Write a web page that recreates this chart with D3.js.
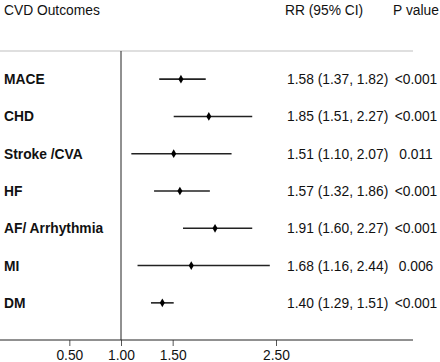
<!DOCTYPE html>
<html><head><meta charset="utf-8">
<script src="https://cdn.jsdelivr.net/npm/d3@7"></script>
<style>body{margin:0;background:#fff}svg{display:block}text{font-family:"Liberation Sans",Arial,sans-serif}</style>
</head><body><svg id="c" width="440" height="362"></svg>
<script>
const outcomes = ["MACE","CHD","Stroke /CVA","HF","AF/ Arrhythmia","MI","DM"];
const rr =    [1.58,1.85,1.51,1.57,1.91,1.68,1.40];
const lower = [1.37,1.51,1.10,1.32,1.60,1.16,1.29];
const upper = [1.82,2.27,2.07,1.86,2.27,2.44,1.51];
const pvals = ["<0.001","<0.001","0.011","<0.001","<0.001","0.006","<0.001"];
const tickVals = [0.5,1.0,1.5,2.5];

const fs = 13.8;
const svg = d3.select("#c");
const x = d3.scaleLinear().domain([1.0,2.5]).range([121,276]);
const y = d3.scaleBand().domain(outcomes).range([60.5,321.5]);
const yc = d => y(d)+y.bandwidth()/2;
const fmt = d3.format(".2f");

// headers
svg.append("text").attr("x",4).attr("y",15).attr("font-size",fs).attr("fill","#111").text("CVD Outcomes");
svg.append("text").attr("x",285).attr("y",15).attr("font-size",fs).attr("fill","#111").text("RR (95% CI)");
svg.append("text").attr("x",416).attr("y",15).attr("font-size",fs).attr("fill","#111").attr("text-anchor","middle").text("P value");

// top rule
svg.append("line").attr("x1",0).attr("x2",413).attr("y1",51).attr("y2",51).attr("stroke","#d4d4d4").attr("stroke-width",1.5);
// reference line
svg.append("line").attr("x1",x(1)).attr("x2",x(1)).attr("y1",51).attr("y2",340).attr("stroke","#222").attr("stroke-width",1);

// axis
const ax = svg.append("g").attr("transform","translate(0,340)")
  .call(d3.axisBottom(x).tickValues(tickVals).tickFormat(fmt).tickSize(6).tickPadding(4));
ax.select(".domain").remove();
ax.selectAll(".tick line").attr("stroke","#555");
ax.selectAll(".tick text").attr("font-size",fs).attr("fill","#111").attr("font-family","Liberation Sans, Arial, sans-serif");
svg.append("line").attr("x1",0).attr("x2",413).attr("y1",340).attr("y2",340).attr("stroke","#222").attr("stroke-width",1);

const rows = svg.selectAll("g.row").data(outcomes).join("g").attr("class","row");
rows.append("text").attr("x",4).attr("y",d=>yc(d)+5).attr("font-size",fs).attr("font-weight","bold").attr("fill","#111").text(d=>d);
rows.append("line").attr("x1",(d,i)=>x(lower[i])).attr("x2",(d,i)=>x(upper[i]))
  .attr("y1",d=>yc(d)).attr("y2",d=>yc(d)).attr("stroke","#222").attr("stroke-width",1.6);
rows.append("path").attr("d",d3.symbol(d3.symbolDiamond,22))
  .attr("transform",(d,i)=>`translate(${x(rr[i])},${yc(d)})`).attr("fill","#000");
rows.append("text").attr("x",287).attr("y",d=>yc(d)+5).attr("font-size",fs).attr("fill","#111")
  .text((d,i)=>`${fmt(rr[i])} (${fmt(lower[i])}, ${fmt(upper[i])})`);
rows.append("text").attr("x",416).attr("y",d=>yc(d)+5).attr("font-size",fs).attr("fill","#111").attr("text-anchor","middle")
  .text((d,i)=>pvals[i]);
</script></body></html>
